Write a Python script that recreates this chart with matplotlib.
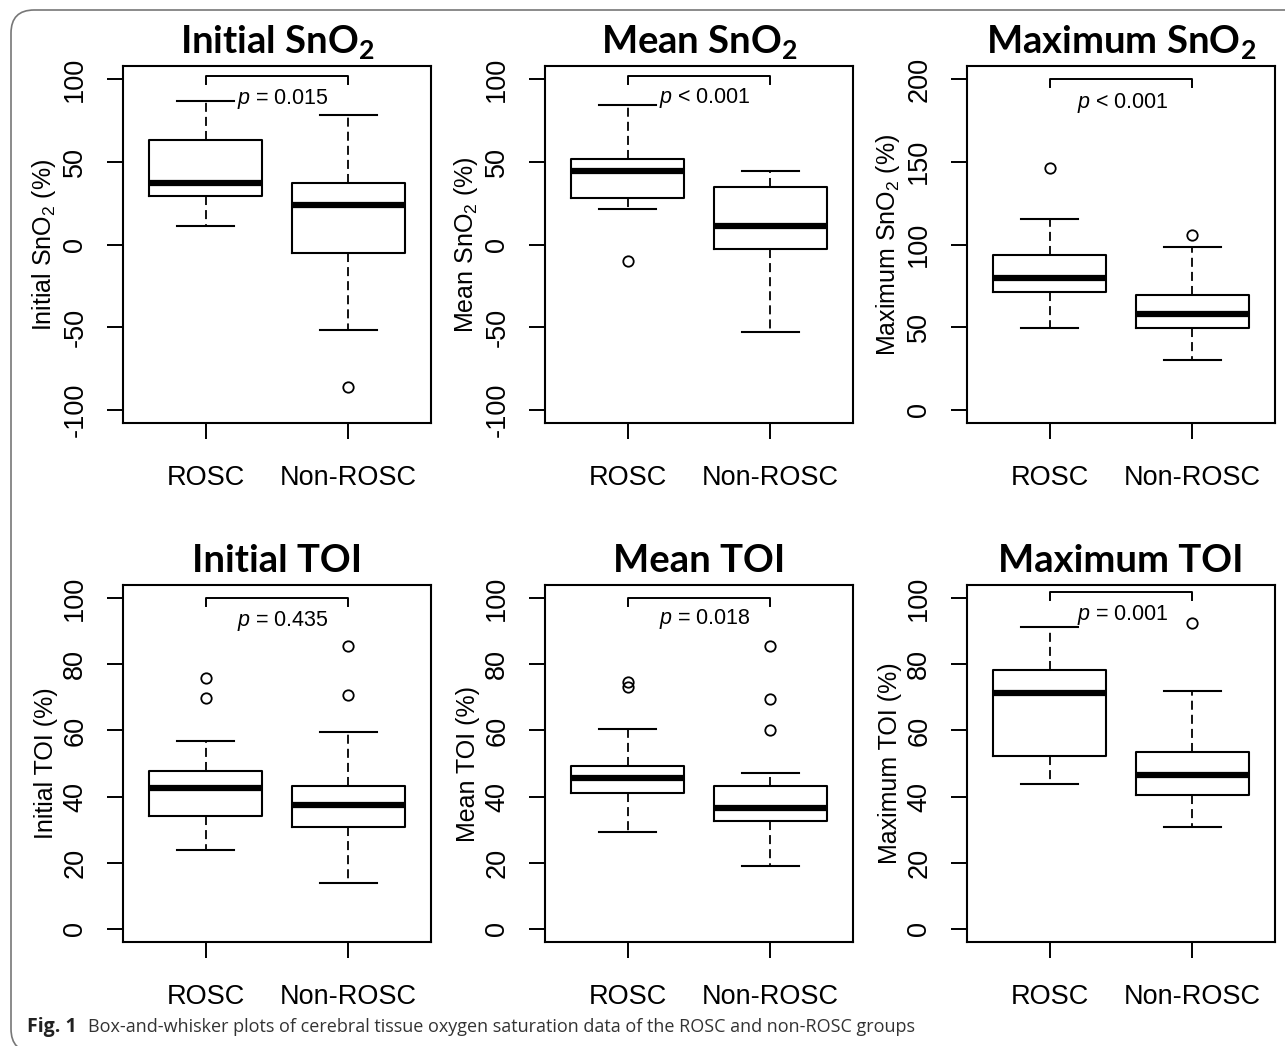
import numpy as np
import matplotlib
matplotlib.use('Agg')
import matplotlib.pyplot as plt
from matplotlib.patches import FancyBboxPatch

plt.rcParams['font.family'] = ['Liberation Sans', 'DejaVu Sans']
plt.rcParams['mathtext.fontset'] = 'custom'
plt.rcParams['mathtext.rm'] = 'Liberation Sans'
plt.rcParams['mathtext.it'] = 'Liberation Sans:italic'
plt.rcParams['mathtext.sf'] = 'Lato:bold'

groups = ['ROSC', 'Non-ROSC']

titles = [r'Initial SnO$_\mathsf{2}$', r'Mean SnO$_\mathsf{2}$', r'Maximum SnO$_\mathsf{2}$',
          'Initial TOI', 'Mean TOI', 'Maximum TOI']
ylabels = [r'Initial SnO$_\mathrm{2}$ (%)', r'Mean SnO$_\mathrm{2}$ (%)', r'Maximum SnO$_\mathrm{2}$ (%)',
           'Initial TOI (%)', 'Mean TOI (%)', 'Maximum TOI (%)']
p_texts = [r'$p$ = 0.015', r'$p$ < 0.001', r'$p$ < 0.001',
           r'$p$ = 0.435', r'$p$ = 0.018', r'$p$ = 0.001']

# box stats per panel: (whislo, q1, med, q3, whishi, fliers) for ROSC, Non-ROSC
box_stats = [
    [(10.9, 29.1, 37.0, 63.0, 86.8, []), (-51.8, -5.2, 24.1, 37.0, 78.1, [-86.2])],
    [(21.7, 28.2, 44.6, 51.9, 84.6, [-9.7]), (-52.8, -2.8, 10.9, 34.6, 44.6, [])],
    [(49.6, 71.2, 79.9, 93.6, 115.4, [146.0]), (30.3, 49.6, 58.2, 69.2, 98.3, [106.0])],
    [(23.7, 34.1, 42.7, 47.6, 56.8, [69.7, 75.8]), (14.0, 30.9, 37.3, 43.1, 59.5, [70.7, 85.4])],
    [(29.2, 41.0, 45.5, 49.1, 60.5, [73.2, 74.8]), (18.9, 32.5, 36.6, 43.1, 47.1, [60.0, 69.6, 85.4])],
    [(43.8, 52.4, 71.4, 78.3, 91.4, []), (30.9, 40.5, 46.6, 53.6, 71.9, [92.4])],
]

yticks = [[-100, -50, 0, 50, 100], [-100, -50, 0, 50, 100], [0, 50, 100, 150, 200],
          [0, 20, 40, 60, 80, 100], [0, 20, 40, 60, 80, 100], [0, 20, 40, 60, 80, 100]]
ylims = [(-108, 108), (-108, 108), (-8, 208), (-4, 104), (-4, 104), (-4, 104)]

# significance bracket (top, leg end) and p-text position
brackets = [(102, 97), (102, 97), (200, 195), (100, 97.5), (100, 97.5), (102, 99.5)]
p_pos = [(1.54, 88), (1.54, 88.5), (1.51, 185.5), (1.54, 93), (1.54, 93.6), (1.51, 95)]

caption_bold = 'Fig. 1'
caption = 'Box-and-whisker plots of cerebral tissue oxygen saturation data of the ROSC and non-ROSC groups'

W, H = 1285, 1046
fig = plt.figure(figsize=(W / 100, H / 100), dpi=100)

col_left = [123, 545, 967]
row_top = [66, 585]
ax_w, ax_h = 308, 357

for i in range(6):
    r, c = divmod(i, 3)
    ax = fig.add_axes([col_left[c] / W, 1 - (row_top[r] + ax_h) / H, ax_w / W, ax_h / H])
    stats = []
    for g, (lo, q1, med, q3, hi, fl) in zip(groups, box_stats[i]):
        stats.append(dict(label=g, whislo=lo, q1=q1, med=med, q3=q3, whishi=hi, fliers=fl))
    ax.bxp(stats, positions=[1, 2], widths=0.79, capwidths=0.4,
           boxprops=dict(color='black', linewidth=1.5),
           medianprops=dict(color='black', linewidth=4.5, solid_capstyle='butt'),
           whiskerprops=dict(color='black', linewidth=1.3, linestyle=(0, (5, 2.8))),
           capprops=dict(color='black', linewidth=1.5),
           flierprops=dict(marker='o', markerfacecolor='none', markeredgecolor='black',
                           markersize=7.5, markeredgewidth=1.3))
    top, leg = brackets[i]
    ax.plot([1, 1, 2, 2], [leg, top, top, leg], color='black', lw=1.4)
    ax.text(p_pos[i][0], p_pos[i][1], p_texts[i], ha='center', va='center', fontsize=15.5)

    ax.set_xlim(0.42, 2.58)
    ax.set_ylim(*ylims[i])
    ax.set_yticks(yticks[i])
    ax.set_yticklabels([str(t) for t in yticks[i]])
    ax.set_xticks([1, 2])
    ax.set_xticklabels(groups)
    ax.tick_params(axis='both', direction='out', length=11.5, width=1.4, labelsize=19.5)
    ax.tick_params(axis='x', pad=19)
    ax.tick_params(axis='y', pad=13.5, labelrotation=90)
    for lab in ax.get_yticklabels():
        lab.set_va('center')
    for s in ax.spines.values():
        s.set_linewidth(1.5)
    ax.set_ylabel(ylabels[i], fontsize=18, labelpad=3)
    ax.set_title(titles[i], fontsize=27.5, fontweight='bold', family='Lato', pad=9)

border = FancyBboxPatch((11 / W, 1 - 1052 / H), 1300 / W, 1042 / H,
                        boxstyle='round,pad=0,rounding_size=0.018',
                        transform=fig.transFigure, fill=False, edgecolor='#777777',
                        linewidth=1.2, mutation_aspect=W / H)
fig.patches.append(border)

fig.text(27 / W, 1 - 1027 / H, caption_bold, fontsize=14, fontweight='bold',
         family='Open Sans', va='center', color='#222222')
fig.text(88 / W, 1 - 1027 / H, caption, fontsize=13, family='Open Sans',
         va='center', color='#333333')

fig.savefig('out.png', dpi=100)
